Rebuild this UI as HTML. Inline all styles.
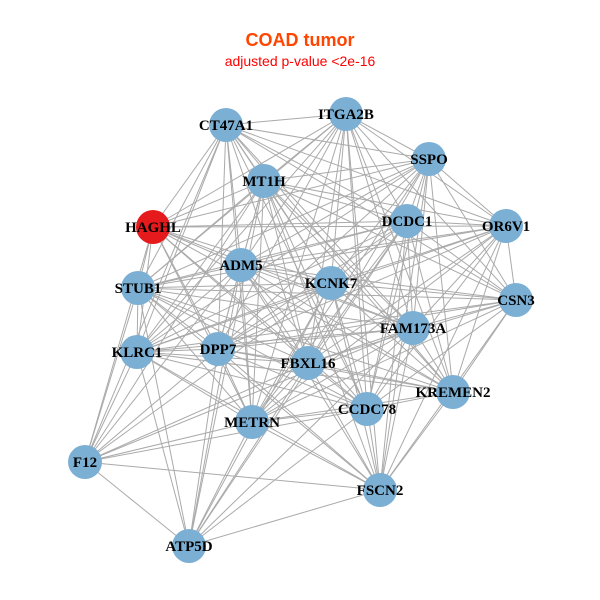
<!DOCTYPE html>
<html><head><meta charset="utf-8"><style>
html,body{margin:0;padding:0;background:#fff;width:600px;height:600px;overflow:hidden}
svg text{font-family:"Liberation Serif",serif;font-weight:bold;font-size:15px}
</style></head><body>
<svg id="s" width="600" height="600" xmlns="http://www.w3.org/2000/svg">
<rect width="600" height="600" fill="#fff"/>
<text x="300" y="46" text-anchor="middle" style="font-family:'Liberation Sans',sans-serif;font-size:18px;font-weight:bold" fill="#FF4500">COAD tumor</text>
<text x="300" y="66" text-anchor="middle" style="font-family:'Liberation Sans',sans-serif;font-size:14px;font-weight:normal" fill="#FF0000">adjusted p-value &lt;2e-16</text>
<g id="e" stroke="#aaaaaa" stroke-width="1"></g>
<g id="n"></g>
</svg>
<script>
var N={CT47A1:[226,125],ITGA2B:[346,114],SSPO:[429,159],MT1H:[264,181],HAGHL:[153,227],DCDC1:[407,221],OR6V1:[506,226],ADM5:[241,265],KCNK7:[331,283],STUB1:[138,288],CSN3:[516,300],FAM173A:[413,328],KLRC1:[137,352],DPP7:[218,349],FBXL16:[308,363],KREMEN2:[453,392],CCDC78:[367,409],METRN:[252,422],F12:[85,462],FSCN2:[380,490],ATP5D:[189,546]};
var ex={"ATP5D-ITGA2B":1,"ATP5D-SSPO":1,"ATP5D-OR6V1":1,"ATP5D-CSN3":1,"ATP5D-KREMEN2":1,"ATP5D-CT47A1":1,"ATP5D-HAGHL":1,"F12-OR6V1":1,"F12-CSN3":1,"F12-SSPO":1,"F12-ITGA2B":1,"F12-KREMEN2":1,"F12-DCDC1":1,"HAGHL-CSN3":1,"FSCN2-HAGHL":1,"FSCN2-CT47A1":1};
var k=Object.keys(N),e=document.getElementById('e'),g=document.getElementById('n'),ns="http://www.w3.org/2000/svg";
for(var i=0;i<k.length;i++)for(var j=i+1;j<k.length;j++){
 if(ex[k[i]+"-"+k[j]]||ex[k[j]+"-"+k[i]])continue;
 var l=document.createElementNS(ns,"line");
 l.setAttribute("x1",N[k[i]][0]);l.setAttribute("y1",N[k[i]][1]);
 l.setAttribute("x2",N[k[j]][0]);l.setAttribute("y2",N[k[j]][1]);e.appendChild(l);}
k.forEach(function(a){var c=document.createElementNS(ns,"circle");
 c.setAttribute("cx",N[a][0]);c.setAttribute("cy",N[a][1]);c.setAttribute("r",17);
 c.setAttribute("fill",a=="HAGHL"?"#E41A1C":"#7BAFD4");g.appendChild(c);});
k.forEach(function(a){var t=document.createElementNS(ns,"text");
 t.setAttribute("x",N[a][0]);t.setAttribute("y",N[a][1]+5);t.setAttribute("text-anchor","middle");
 t.textContent=a;g.appendChild(t);});
</script>
</body></html>
